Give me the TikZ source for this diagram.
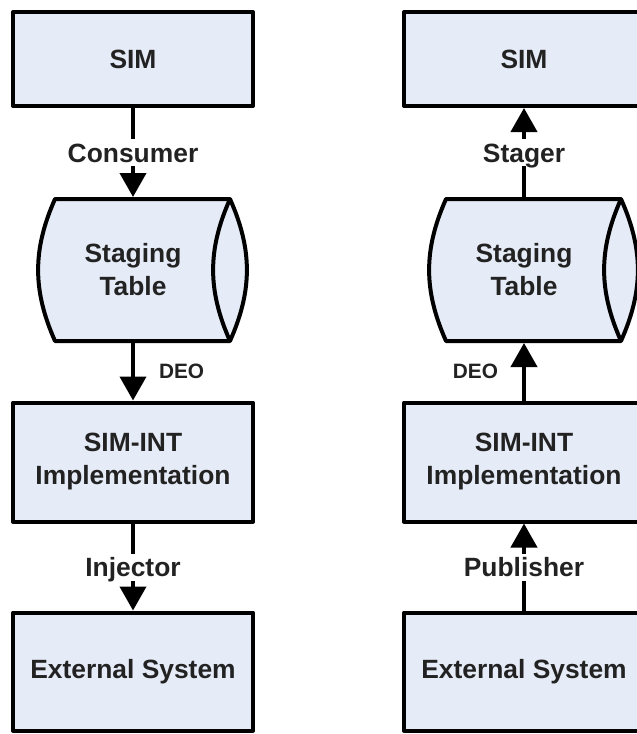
\documentclass[tikz,border=0pt]{standalone}
\usepackage{fontspec}
\setmainfont{Liberation Sans}
\usetikzlibrary{arrows.meta}
\definecolor{boxfill}{RGB}{230,236,247}
\definecolor{txt}{RGB}{34,34,34}
\begin{document}
\begin{tikzpicture}[x=0.5pt,y=-0.5pt,>={Triangle[width=13pt,length=12pt]}, line width=2pt, line join=round,
	font=\bfseries\fontsize{13.2}{16.5}\selectfont,
	box/.style={draw,fill=boxfill,text=txt,align=center,minimum width=120pt,inner sep=0pt},
	tabletxt/.style={text=txt,align=center,minimum height=71pt,inner sep=0pt,outer sep=1pt},
	tableline/.style={draw,fill=boxfill},
	lbl/.style={fill=white,text=txt,inner sep=2pt,text height=0.95em,text depth=0em},
	deo/.style={text=txt,inner sep=0pt,font=\bfseries\fontsize{10.4}{12}\selectfont}]
	\useasboundingbox (0,0) rectangle (637,734);
	\foreach \cx in {133,524}{
		\draw[tableline] (\cx-78,199) -- (\cx+97,199) to[bend left=24] (\cx+97,341)
		-- (\cx-78,341) to[bend left=24] (\cx-78,199) -- cycle;
		\draw (\cx+97,199) to[bend right=24] (\cx+97,341);
	}
	\node[box,minimum height=47pt] (simL) at (133,59) {SIM};
	\node[tabletxt] (tabL) at (133,270) {Staging\\Table};
	\node[box,minimum height=59.5pt] (intL) at (133,462) {SIM-INT\\Implementation};
	\node[box,minimum height=59pt] (extL) at (133,671.5) {External System};
	\node[box,minimum height=47pt] (simR) at (524,59) {SIM};
	\node[tabletxt] (tabR) at (524,270) {Staging\\Table};
	\node[box,minimum height=59.5pt] (intR) at (524,462) {SIM-INT\\Implementation};
	\node[box,minimum height=59pt] (extR) at (524,671.5) {External System};
	\draw[->] (simL) -- node[lbl]{Consumer} (tabL);
	\draw[->] (tabL) -- node[deo,right=12pt]{DEO} (intL);
	\draw[->] (intL) -- node[lbl]{Injector} (extL);
	\draw[->] (tabR) -- node[lbl]{Stager} (simR);
	\draw[->] (intR) -- node[deo,left=12pt]{DEO} (tabR);
	\draw[->] (extR) -- node[lbl]{Publisher} (intR);
\end{tikzpicture}
\end{document}
